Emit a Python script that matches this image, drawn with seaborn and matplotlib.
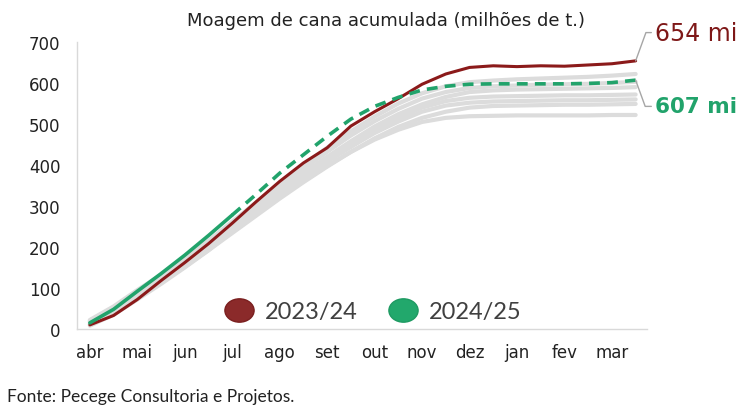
import matplotlib
matplotlib.use('Agg')
import numpy as np
import pandas as pd
import matplotlib.pyplot as plt
import seaborn as sns
from matplotlib.lines import Line2D
from matplotlib.path import Path
from matplotlib.transforms import Affine2D

# Months on the x axis (harvest year, Apr -> Mar)
months = ['abr', 'mai', 'jun', 'jul', 'ago', 'set', 'out', 'nov', 'dez', 'jan', 'fev', 'mar']
# Half-month steps
steps = np.arange(24) / 2

# 2023/24 accumulated crushing (million t)
safra_2324 = [10, 33, 72, 118, 162, 208, 258, 310, 360, 405, 442, 495,
              530, 562, 597, 622, 638, 642, 640, 642, 641, 644, 647, 654]
# 2024/25: realised up to July, then projection
safra_2425 = [15, 48, 92, 135, 180, 228, 278, 328, 380, 425, 470, 512,
              543, 565, 583, 592, 597, 598, 598, 598, 598, 599, 601, 607]
n_real = 7

# Earlier seasons (grey background)
hist = [
    [18, 50, 90, 130, 172, 215, 262, 308, 355, 400, 442, 482, 518, 550, 575, 592, 602, 606, 609, 611, 613, 615, 618, 622],
    [12, 42, 82, 122, 162, 205, 250, 298, 345, 390, 432, 472, 507, 537, 562, 578, 588, 592, 594, 596, 597, 598, 600, 603],
    [20, 52, 92, 130, 168, 208, 250, 294, 338, 380, 420, 458, 494, 524, 548, 566, 578, 582, 584, 585, 586, 587, 588, 590],
    [8, 35, 72, 110, 150, 192, 238, 284, 330, 372, 412, 450, 485, 515, 540, 556, 564, 567, 568, 569, 570, 570, 571, 572],
    [15, 45, 85, 122, 160, 200, 244, 288, 330, 370, 408, 444, 478, 506, 530, 545, 552, 555, 556, 557, 558, 558, 559, 560],
    [10, 40, 78, 115, 152, 192, 234, 276, 318, 358, 396, 432, 465, 493, 515, 530, 540, 544, 545, 546, 547, 547, 548, 549],
    [22, 55, 95, 132, 168, 206, 244, 284, 324, 362, 398, 432, 462, 486, 505, 515, 519, 520, 521, 521, 521, 521, 522, 522],
]

red = '#8B1A1A'
green = '#21A36B'

sns.set_style('white')
plt.rcParams['font.family'] = ['DejaVu Sans']

fig = plt.figure(figsize=(7.5, 4.14), dpi=100)
ax = fig.add_axes([0.1027, 0.2029, 0.76, 0.6932])

df_hist = pd.DataFrame(
    [(s, x, v) for s, serie in enumerate(hist) for x, v in zip(steps, serie)],
    columns=['safra', 'x', 'valor'])
sns.lineplot(data=df_hist, x='x', y='valor', units='safra', estimator=None,
             color='#dcdcdc', lw=3, ax=ax, legend=False)

sns.lineplot(x=steps, y=safra_2324, color=red, lw=2.2, ax=ax)
sns.lineplot(x=steps[:n_real], y=safra_2425[:n_real], color=green, lw=2.6, ax=ax)
sns.lineplot(x=steps[n_real - 1:], y=safra_2425[n_real - 1:], color=green, lw=2.6,
             ax=ax, linestyle=(0, (3, 2)))

ax.set_xlim(-0.27, 11.74)
ax.set_ylim(0, 700)
ax.set_xticks(range(12))
ax.set_xticklabels(months)
ax.set_yticks(range(0, 701, 100))
ax.tick_params(axis='both', length=0, labelsize=12, colors='#222222')
ax.tick_params(axis='x', pad=10)
ax.tick_params(axis='y', pad=12)
ax.set_xlabel('')
ax.set_ylabel('')
for side in ['top', 'right']:
    ax.spines[side].set_visible(False)
for side in ['left', 'bottom']:
    ax.spines[side].set_color('#d9d9d9')
    ax.spines[side].set_linewidth(1)

fig.text(0.515, 0.95, 'Moagem de cana acumulada (milhões de t.)',
         ha='center', va='center', fontsize=13, color='#222222')

# End labels with leader lines
x_end = steps[-1]
ax.annotate('654 mi', xy=(x_end, safra_2324[-1]), xytext=(11.9, 723),
            textcoords='data', fontsize=17, color='#7E1818', va='center', ha='left',
            annotation_clip=False,
            arrowprops=dict(arrowstyle='-', color='#a6a6a6', lw=1,
                            connectionstyle='angle,angleA=0,angleB=70,rad=0',
                            shrinkA=0, shrinkB=0))
ax.annotate('607 mi', xy=(x_end, safra_2425[-1]), xytext=(11.9, 543),
            textcoords='data', fontsize=15.5, color=green, fontweight='bold',
            va='center', ha='left', annotation_clip=False,
            arrowprops=dict(arrowstyle='-', color='#a6a6a6', lw=1,
                            connectionstyle='angle,angleA=0,angleB=-70,rad=0',
                            shrinkA=0, shrinkB=0))

# Elliptic legend markers
ellipse = Path.unit_circle().transformed(Affine2D().scale(1.25, 1.0))
handles = [Line2D([], [], ls='', marker=ellipse, ms=21, color='#8B2A2A', mec='#7a1f1f'),
           Line2D([], [], ls='', marker=ellipse, ms=21, color='#22A86C', mec='#1e9a62')]
leg = ax.legend(handles, ['2023/24', '2024/25'], loc='lower center',
                bbox_to_anchor=(0.515, -0.05), ncol=2, frameon=False,
                handletextpad=0.3, columnspacing=1.1, handlelength=1.6,
                prop={'family': 'Lato', 'size': 17})
for t in leg.get_texts():
    t.set_color('#404040')

fig.text(0.009, 0.04, 'Fonte: Pecege Consultoria e Projetos.', fontsize=12.5,
         family='Lato', color='#222222', ha='left', va='center')

fig.savefig('out.png', dpi=100)
